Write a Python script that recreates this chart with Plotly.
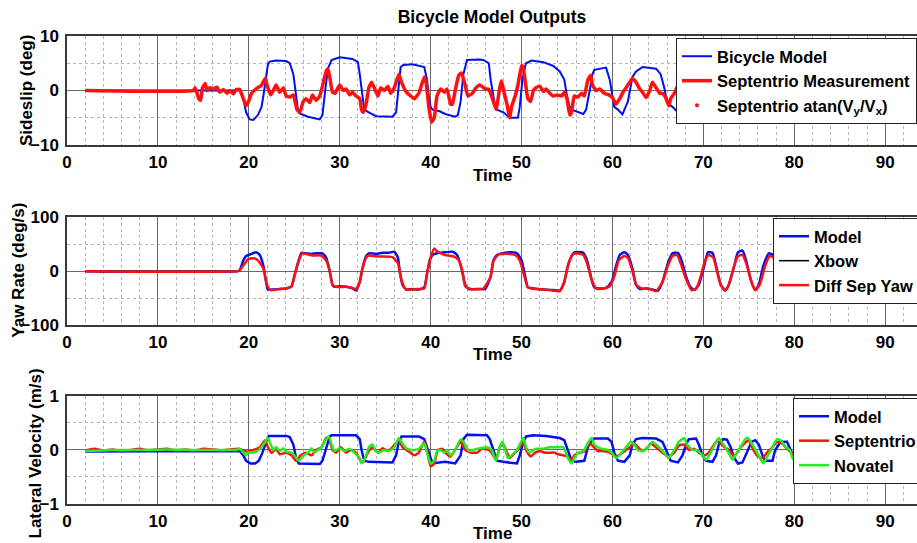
import plotly.graph_objects as go

# ---------------- data ----------------
# Panel 1: Sideslip (deg)
ss_model_t = [2, 14, 19.0, 19.4, 19.7, 20.1, 20.5, 21.0, 21.4, 21.6,
              21.9, 22.1, 22.3, 23.0, 24.1, 24.5, 24.9, 25.2, 25.4, 25.6,
              26.5, 27.8, 28.1, 28.4, 28.7, 29.1, 30.0, 31.4, 32.0, 32.2,
              32.5, 32.7, 33.2, 34.0, 35.8, 36.2, 36.5, 36.7, 37.0, 38.0,
              39.3, 39.6, 39.8, 40.0, 40.2, 41.0, 41.6, 42.7, 43.0, 43.3,
              43.6, 44.0, 45.3, 45.8, 46.4, 46.6, 46.9, 47.1, 47.3, 48.0,
              48.7, 49.6, 49.8, 50.1, 50.4, 50.5, 51.1, 52.4, 53.5, 54.2,
              54.7, 55.0, 55.3, 55.5, 56.8, 57.1, 57.5, 57.8, 58.0, 59.3,
              59.7, 60.0, 60.2, 60.6, 61.1, 61.7, 62.0, 62.2, 62.6, 63.3,
              64.8, 65.3, 65.7, 66.0, 66.2, 66.6, 67.2]
ss_model = [0, 0, 0, -1.5, -4, -5.3, -5.4, -4.5, -3, -1,
            3, 4.8, 5.3, 5.5, 5.4, 5.0, 3, -1, -3.5, -4.2,
            -4.8, -5.3, -4.5, 0, 4, 5.6, 6.1, 5.8, 5.2, 3,
            -1, -3.5, -4, -4.7, -4.8, -4, 1, 4.3, 4.7, 4.8,
            4.3, 2, -1, -3, -3.5, -3.8, -4.3, -4.8, -4.5, -2,
            3, 5.6, 5.7, 5.6, 5.0, 2, -1, -3, -3.5, -4,
            -5, -5, -3, 2, 4.5, 5.0, 5.5, 5.2, 4.5, 3.5,
            2, -1, -3, -3.5, -4.3, -3.5, 0, 3, 3.8, 4.2,
            2, -1, -3, -3.5, -4.4, -2, 1, 2.5, 3.5, 4.3,
            4.0, 3, 0.5, -2, -2.5, -3, -4]

ss_sep_t = [2, 13.9, 14.1, 14.5, 14.7, 14.9, 15.2, 15.4, 15.7, 16.1,
            16.5, 16.8, 17.2, 17.6, 17.9, 18.3, 18.6, 19.0, 19.4, 19.7,
            19.9, 20.3, 20.8, 21.4, 21.8, 22.0, 22.4, 22.7, 23.0, 23.4,
            23.8, 24.1, 24.5, 24.9, 25.3, 25.6, 26.0, 26.3, 26.7, 27.0,
            27.4, 27.8, 28.2, 28.5, 28.7, 28.9, 29.2, 29.5, 29.8, 30.0,
            30.4, 30.7, 31.1, 31.4, 31.8, 32.2, 32.4, 32.6, 32.9, 33.2,
            33.5, 33.8, 34.2, 34.5, 34.9, 35.3, 35.6, 36.0, 36.5, 36.8,
            37.3, 37.8, 38.2, 38.7, 39.3, 39.5, 39.8, 40.1, 40.4, 40.7,
            41.1, 41.5, 41.8, 42.2, 42.4, 42.7, 43.1, 43.4, 43.8, 44.1,
            44.6, 44.9, 45.4, 46.0, 46.4, 46.6, 46.9, 47.2, 47.6, 47.8,
            48.1, 48.4, 48.7, 48.9, 49.3, 49.6, 50.0, 50.2, 50.5, 50.7,
            51.0, 51.3, 51.6, 52.0, 52.4, 52.7, 53.1, 53.5, 53.9, 54.4,
            54.7, 55.0, 55.3, 55.5, 55.8, 56.2, 56.6, 56.9, 57.3, 57.6,
            57.8, 58.2, 58.6, 59.1, 59.6, 60.0, 60.4, 60.8, 61.1, 61.7,
            62.2, 62.6, 63.0, 63.3, 63.7, 64.1, 64.4, 64.8, 65.2, 65.5,
            65.9, 66.2, 66.4, 66.8, 67.2]
ss_sep = [0, 0, 0.5, -1.5, -1.8, 0.5, 1.3, 0, 0.5, 0.3,
          0.6, -0.3, 0.2, -0.5, 0, -0.6, 0.2, 0.2, -1.5, -2.8,
          -2.3, -0.5, 0.3, 1.0, 2.2, 1.0, -0.8, 0, 1.0, -0.3,
          0.5, -1.0, -1.2, -0.8, -3.5, -4.0, -2.0, -1.5, -2.2, -0.8,
          -1.8, -1.0, 1.5, 3.5, 4.0, 2.5, -0.3, -0.5, 0.5, 1.0,
          0, 0.3, -0.8, -0.3, -1.0, -1.5, -3.5, -4.0, -2.5, 0.5,
          1.5, 0.5, -1.0, 0.5, 0, 0.8, -0.5, 0.5, 3.0, 1.5,
          -0.2, -1.0, -1.5, -0.5, 2.5, 1.5, -3.0, -5.8, -5.0, -1.0,
          0.3, -0.3, 0.3, -2.5, -2.5, 0, 2.8, 3.2, 1.0, -1.0,
          -0.5, 0.3, 1.0, 0.3, 0.2, -0.5, -2.0, -3.5, 0.5, 1.8,
          -0.5, -2.5, -5.0, -3.0, -1.0, 1.0, 4.6, 4.0, 0.5, -1.5,
          -2.0, 0, 0.5, 0.8, -0.2, 0.3, -0.5, -1.0, -0.8, -1.0,
          -0.3, -1.5, -4.5, -4.0, -1.0, -1.2, -0.5, -1.0, 2.0, 2.8,
          1.0, 0, 0.3, -0.5, -0.8, -1.3, -2.5, -1.5, -0.5, 1.0,
          2.2, 1.5, 0.3, -0.3, -1.3, 0, 1.5, 0.5, -0.5, -0.5,
          -1.5, -2.8, -1.5, -0.5, 1.0]

# Panel 2: Yaw Rate (deg/s)
yaw_model_t = [2, 18.8, 19.0, 19.4, 19.7, 20.3, 20.8, 21.2, 21.6, 21.9,
               22.1, 22.7, 23.4, 24.1, 24.7, 25.0, 25.4, 25.8, 26.3, 26.9,
               27.4, 28.1, 28.5, 28.9, 29.2, 29.4, 30.0, 30.7, 31.4, 31.8,
               32.2, 32.5, 32.9, 33.2, 34.0, 34.7, 35.4, 36.0, 36.4, 36.6,
               36.9, 37.3, 38.0, 38.7, 39.3, 39.6, 39.9, 40.2, 40.7, 41.6,
               42.4, 42.9, 43.4, 43.8, 44.2, 45.3, 46.0, 46.6, 46.9, 47.3,
               47.6, 48.7, 49.5, 50.0, 50.4, 50.7, 51.3, 52.4, 53.5, 54.2,
               54.7, 55.1, 55.5, 55.8, 56.8, 57.2, 57.7, 58.0, 58.6, 59.3,
               59.9, 60.4, 60.8, 61.3, 61.7, 62.2, 62.6, 63.0, 63.7, 64.4,
               65.0, 65.5, 66.1, 66.6, 67.2, 67.6, 68.1, 68.6, 69.0, 69.5,
               70.1, 70.5, 71.0, 71.4, 71.9, 72.4, 72.8, 73.4, 73.8, 74.3,
               74.7, 75.2, 75.7, 76.1, 76.6, 77.2, 77.7, 78.3, 78.8, 79.3,
               79.8, 80.4, 81.0, 81.5, 82.0, 82.6, 83.0]
yaw_model = [0, 0, 2, 20, 28, 32, 35, 30, 10, -20,
             -34, -34, -33, -32, -28, -10, 15, 34, 33, 32,
             33, 33, 25, 0, -25, -29, -28, -29, -32, -36,
             -20, 5, 28, 33, 32, 34, 34, 36, 25, 0,
             -25, -34, -33, -34, -30, -5, 20, 30, 33, 35,
             36, 30, 5, -25, -33, -33, -33, -10, 20, 30,
             32, 35, 33, 20, -10, -30, -32, -34, -35, -36,
             -20, 10, 28, 35, 34, 20, -15, -30, -32, -31,
             -20, 10, 30, 35, 30, 5, -25, -33, -32, -34,
             -36, -20, 15, 33, 34, 20, -10, -30, -35, -25,
             10, 35, 34, 10, -25, -36, -25, 10, 35, 38,
             20, -15, -35, -25, 10, 33, 30, 10, -20, -34,
             -20, 15, 30, 15, -20, -34, -25]

yaw_xbow_t = [2, 3.5, 4.0, 4.5, 6, 7, 7.5, 8, 12, 18.8]
yaw_xbow = [0, 0, -2, 0, 0, 0.5, -0.5, 0, 0, 0]

yaw_sep_t = [2, 18.8, 19.0, 19.6, 19.9, 20.5, 21.0, 21.6, 22.0, 22.4,
             23.4, 24.1, 24.7, 25.0, 25.4, 25.9, 26.5, 27.0, 27.9, 28.5,
             28.9, 29.2, 29.6, 30.7, 31.4, 31.8, 32.2, 32.5, 32.9, 33.2,
             34.3, 35.8, 36.4, 36.7, 37.1, 37.4, 38.7, 39.3, 39.6, 40.0,
             40.4, 40.7, 41.6, 42.6, 43.1, 43.5, 43.8, 44.4, 45.8, 46.6,
             46.9, 47.4, 48.5, 49.3, 49.8, 50.4, 50.7, 51.6, 53.1, 54.2,
             54.7, 55.1, 55.6, 56.0, 56.8, 57.2, 57.7, 58.2, 59.0, 59.7,
             60.2, 60.7, 61.3, 61.7, 62.2, 62.6, 63.2, 64.1, 64.8, 65.5,
             66.1, 66.6, 67.1, 67.5, 68.1, 68.7, 69.2, 69.7, 70.2, 70.6,
             71.1, 71.5, 71.9, 72.4, 72.8, 73.4, 73.8, 74.3, 74.8, 75.3,
             75.7, 76.2, 76.8, 77.3, 77.7, 78.3, 78.8, 79.3, 79.8, 80.4,
             81.0, 81.5, 82.0, 82.6, 83.0]
yaw_sep = [0, 0, 2, 15, 22, 24, 20, 5, -25, -35,
           -33, -32, -28, -10, 15, 33, 31, 29, 29, 20,
           0, -25, -29, -29, -31, -33, -20, 5, 25, 29,
           27, 26, 15, -10, -30, -34, -33, -32, -5, 25,
           42, 37, 30, 27, 20, 0, -28, -33, -32, -10,
           18, 30, 32, 30, 20, -15, -30, -33, -35, -37,
           -20, 10, 30, 33, 30, 15, -15, -32, -32, -28,
           -10, 20, 28, 25, 0, -25, -32, -33, -37, -20,
           10, 28, 30, 15, -15, -35, -33, -10, 20, 30,
           25, 0, -25, -35, -25, 10, 28, 30, 10, -20,
           -35, -25, 10, 28, 25, 10, -20, -36, -20, 15,
           28, 15, -20, -36, -25]

# Panel 3: Lateral Velocity (m/s)
vy_model_t = [2, 10, 18.8, 19.0, 19.4, 19.7, 20.2, 20.7, 21.1, 21.5,
              21.9, 22.2, 24.1, 24.5, 24.9, 25.2, 25.5, 27.8, 28.1, 28.5,
              28.9, 29.1, 31.8, 32.2, 32.4, 32.7, 33.2, 35.8, 36.2, 36.5,
              36.8, 38.7, 39.3, 39.7, 40.1, 40.5, 41.6, 42.7, 43.3, 43.6,
              44.0, 46.2, 46.5, 46.9, 47.3, 48.0, 49.5, 49.8, 50.2, 50.5,
              51.3, 52.7, 54.2, 54.7, 55.1, 55.5, 56.0, 56.9, 57.3, 57.7,
              58.0, 59.5, 59.9, 60.2, 60.6, 61.3, 61.9, 62.2, 62.6, 63.3,
              64.8, 65.5, 65.9, 66.4, 67.2, 67.7, 68.1, 68.4, 69.2, 69.5,
              69.9, 70.3, 71.0, 71.4, 71.7, 72.2, 72.6, 73.0, 73.4, 73.8,
              74.3, 74.8, 75.3, 75.7, 76.1, 76.5, 76.8, 77.6, 77.9, 78.5,
              79.2, 79.6, 80.0]
vy_model = [-0.03, -0.02, -0.01, -0.02, -0.1, -0.2, -0.25, -0.25, -0.2, -0.05,
            0.15, 0.26, 0.26, 0.24, 0.1, -0.15, -0.25, -0.26, -0.2, 0.05,
            0.25, 0.27, 0.27, 0.2, 0, -0.2, -0.22, -0.23, -0.1, 0.15,
            0.25, 0.25, 0.2, 0, -0.2, -0.24, -0.22, -0.25, -0.1, 0.2,
            0.28, 0.27, 0.2, 0, -0.2, -0.22, -0.25, -0.1, 0.15, 0.25,
            0.27, 0.26, 0.22, 0.18, 0, -0.2, -0.22, -0.2, 0.05, 0.17,
            0.21, 0.21, 0.15, -0.05, -0.2, -0.22, -0.1, 0.1, 0.2, 0.22,
            0.21, 0.15, 0, -0.2, -0.23, -0.1, 0.1, 0.2, 0.21, 0.1,
            -0.1, -0.2, -0.22, -0.1, 0.1, 0.2, 0.19, 0.05, -0.15, -0.25,
            -0.23, -0.05, 0.15, 0.18, 0.1, -0.1, -0.2, -0.2, 0, 0.15,
            0.15, 0, -0.15]

vy_sep_t = [2, 3, 4, 5, 6, 7, 8, 9, 10, 11,
            12, 13, 14, 15, 16, 17, 18, 19.0, 19.7, 20.5,
            21.2, 21.8, 22.1, 22.5, 23.0, 23.4, 24.1, 24.7, 25.2, 25.7,
            26.3, 26.9, 27.4, 28.0, 28.5, 28.8, 29.2, 29.6, 30.1, 30.7,
            31.2, 31.8, 32.3, 32.6, 33.1, 33.6, 34.2, 34.7, 35.3, 35.8,
            36.5, 36.9, 37.6, 38.2, 38.7, 39.3, 39.6, 40.0, 40.4, 40.8,
            41.3, 41.6, 42.2, 42.7, 43.3, 43.8, 44.4, 45.1, 45.6, 46.4,
            46.7, 47.2, 47.6, 48.0, 48.4, 48.7, 49.3, 49.8, 50.2, 50.5,
            51.0, 51.5, 52.0, 52.6, 53.1, 53.6, 54.0, 54.6, 55.1, 55.5,
            55.8, 56.4, 56.9, 57.5, 57.8, 58.4, 58.9, 59.7, 60.4, 61.1,
            61.9, 62.4, 62.8, 63.3, 63.9, 64.2, 64.8, 65.5, 66.2, 66.8,
            67.3, 67.9, 68.4, 69.0, 69.5, 70.1, 70.6, 71.4, 71.7, 72.3,
            72.8, 73.4, 73.9, 74.5, 75.0, 75.5, 76.0, 76.5, 77.0, 77.6,
            78.1, 78.7, 79.2, 79.7, 80.0]
vy_sep = [-0.01, 0.02, -0.01, 0.01, -0.02, 0.0, 0.02, -0.01, 0.01, 0.02,
          -0.01, 0.01, -0.01, 0.02, 0.01, -0.01, 0.01, 0.02, -0.03, 0.0,
          0.05, 0.18, 0.05, -0.05, 0.02, -0.08, -0.05, -0.1, -0.2, -0.1,
          -0.05, -0.1, 0.0, 0.05, 0.22, 0.23, 0.0, -0.05, 0.05, -0.05,
          0.0, -0.05, -0.2, -0.22, -0.05, 0.05, -0.05, 0.03, -0.02, 0.05,
          0.18, 0.05, -0.03, -0.1, -0.05, 0.15, 0.0, -0.3, -0.25, 0.0,
          0.02, -0.05, -0.12, 0.0, 0.15, 0.0, -0.05, -0.05, 0.02, 0.0,
          -0.05, -0.18, 0.05, 0.1, -0.05, -0.15, -0.05, 0.05, 0.15, 0.0,
          -0.12, -0.05, -0.02, -0.05, -0.05, -0.05, -0.08, -0.1, -0.12, -0.2,
          -0.1, -0.05, -0.03, 0.12, 0.08, -0.02, -0.02, -0.05, -0.12, -0.05,
          0.05, 0.12, 0.05, -0.02, 0.05, 0.12, 0.05, -0.05, -0.12, -0.05,
          0.08, 0.1, 0.0, 0.02, -0.05, -0.1, -0.05, 0.15, 0.15, 0.05,
          0.0, -0.12, 0.0, 0.12, 0.18, 0.0, -0.12, -0.15, -0.05, 0.05,
          0.15, 0.12, 0.02, -0.05, -0.1]

vy_nov_t = [2, 5, 8, 11, 14, 17, 18.6, 19.0, 19.4, 19.7,
            19.9, 20.3, 20.8, 21.4, 21.8, 22.1, 22.4, 22.7, 23.0, 23.4,
            23.8, 24.1, 24.7, 25.1, 25.5, 25.9, 26.5, 26.9, 27.2, 27.6,
            28.0, 28.5, 28.8, 29.2, 29.4, 30.0, 30.5, 31.1, 31.6, 32.2,
            32.4, 32.8, 33.2, 33.6, 34.0, 34.3, 34.9, 35.4, 36.0, 36.5,
            36.9, 37.4, 38.2, 38.7, 39.3, 39.6, 40.0, 40.4, 40.7, 41.1,
            41.5, 41.8, 42.2, 42.7, 43.3, 43.6, 44.2, 44.7, 45.4, 46.2,
            46.7, 47.2, 47.6, 47.9, 48.2, 48.5, 48.9, 49.5, 49.8, 50.2,
            50.5, 50.9, 51.5, 52.2, 53.1, 54.2, 54.6, 55.1, 55.5, 55.8,
            56.2, 56.8, 57.2, 57.7, 58.0, 58.4, 58.9, 59.5, 59.9, 60.4,
            61.0, 61.5, 62.0, 62.4, 62.8, 63.3, 63.9, 64.4, 64.8, 65.3,
            65.9, 66.2, 66.8, 67.3, 67.9, 68.2, 68.8, 69.3, 69.9, 70.3,
            70.8, 71.4, 71.7, 72.2, 72.6, 73.2, 73.5, 74.1, 74.6, 74.9,
            75.4, 75.9, 76.4, 76.6, 77.1, 77.6, 78.1, 78.5, 79.1, 79.5,
            79.8, 80.0]
vy_nov = [-0.02, 0.0, 0.0, 0.01, 0.0, 0.0, 0.0, 0.02, -0.05, -0.1,
          -0.05, -0.05, -0.03, 0.05, 0.15, 0.22, 0.1, 0.0, 0.05, -0.02,
          0.03, -0.03, -0.05, -0.12, -0.2, -0.12, -0.05, 0.03, -0.05, 0.0,
          0.05, 0.2, 0.25, 0.05, -0.02, 0.03, -0.02, 0.02, -0.05, -0.15,
          -0.25, -0.15, 0.05, 0.1, -0.03, -0.05, 0.0, -0.02, 0.05, 0.22,
          0.12, 0.02, 0.0, 0.02, 0.12, -0.05, -0.25, -0.2, -0.02, 0.0,
          -0.05, 0.0, -0.1, 0.0, 0.2, 0.15, -0.02, 0.0, 0.03, 0.05,
          0.0, -0.2, 0.05, 0.15, 0.0, -0.15, -0.1, 0.0, 0.1, 0.22,
          0.05, -0.05, 0.02, 0.02, 0.05, 0.05, 0.05, -0.15, -0.25, -0.15,
          -0.05, -0.02, 0.1, 0.22, 0.1, 0.05, 0.02, 0.0, -0.05, -0.15,
          -0.05, 0.05, 0.15, 0.1, 0.0, -0.02, 0.05, 0.15, 0.1, 0.02,
          -0.1, -0.15, 0.0, 0.15, 0.22, 0.1, 0.0, 0.0, -0.1, -0.18,
          -0.05, 0.15, 0.22, 0.1, 0.0, -0.18, -0.1, 0.05, 0.2, 0.22,
          0.1, -0.05, -0.2, -0.25, -0.1, 0.05, 0.2, 0.18, 0.05, 0.0,
          -0.15, -0.2]

x_tickvals = [0, 10, 20, 30, 40, 50, 60, 70, 80, 90]
y1_ticks = [-10, 0, 10]
y2_ticks = [-100, 0, 100]
y3_ticks = [-1, 0, 1]

# ---------------- figure ----------------
BLUE = "#0010f0"
RED = "#ff1010"
GREEN = "#22ee22"
FONT = "Liberation Sans, Arial, sans-serif"
W, H = 917, 543

fig = go.Figure()

# panel 1
fig.add_trace(go.Scatter(x=ss_model_t, y=ss_model, mode="lines", name="Bicycle Model",
                         line=dict(color=BLUE, width=2), xaxis="x", yaxis="y", legend="legend"))
fig.add_trace(go.Scatter(x=ss_sep_t, y=ss_sep, mode="lines", name="Septentrio Measurement",
                         line=dict(color=RED, width=3.5, shape="spline", smoothing=0.4),
                         xaxis="x", yaxis="y", legend="legend"))
fig.add_trace(go.Scatter(x=[None], y=[None], mode="markers",
                         name="Septentrio atan(V<sub>y</sub>/V<sub>x</sub>)",
                         marker=dict(color=RED, size=4), xaxis="x", yaxis="y", legend="legend"))
# panel 2
fig.add_trace(go.Scatter(x=yaw_model_t, y=yaw_model, mode="lines", name="Model",
                         line=dict(color=BLUE, width=2.5, shape="spline", smoothing=0.5),
                         xaxis="x2", yaxis="y2", legend="legend2"))
fig.add_trace(go.Scatter(x=yaw_xbow_t, y=yaw_xbow, mode="lines", name="Xbow",
                         line=dict(color="black", width=1.5), xaxis="x2", yaxis="y2", legend="legend2"))
fig.add_trace(go.Scatter(x=yaw_sep_t, y=yaw_sep, mode="lines", name="Diff Sep Yaw",
                         line=dict(color=RED, width=2.5, shape="spline", smoothing=0.5),
                         xaxis="x2", yaxis="y2", legend="legend2"))
# panel 3
fig.add_trace(go.Scatter(x=vy_model_t, y=vy_model, mode="lines", name="Model",
                         line=dict(color=BLUE, width=2.5), xaxis="x3", yaxis="y3", legend="legend3"))
fig.add_trace(go.Scatter(x=vy_sep_t, y=vy_sep, mode="lines", name="Septentrio",
                         line=dict(color=RED, width=2.5, shape="spline", smoothing=0.5),
                         xaxis="x3", yaxis="y3", legend="legend3"))
fig.add_trace(go.Scatter(x=vy_nov_t, y=vy_nov, mode="lines", name="Novatel",
                         line=dict(color=GREEN, width=2.5, shape="spline", smoothing=0.5),
                         xaxis="x3", yaxis="y3", legend="legend3"))

tickfont = dict(family=FONT, size=17, color="black", weight="bold")


def xax(anchor):
    return dict(anchor=anchor, domain=[0, 1], range=[0, 93.5], tickvals=x_tickvals,
                showgrid=True, gridcolor="#6a6a6a", gridwidth=1,
                minor=dict(dtick=2, tick0=0, showgrid=True, gridcolor="#b4b4b4",
                           griddash="dot", gridwidth=1),
                showline=True, linecolor="#3a3a3a", linewidth=1.5, mirror=True,
                ticks="", zeroline=False, tickfont=tickfont, ticklabelstandoff=1,
                automargin=False)


def yax(anchor, dom, rng, tv, minor):
    return dict(anchor=anchor, domain=dom, range=rng, tickvals=tv,
                showgrid=True, gridcolor="#6a6a6a", gridwidth=1,
                minor=dict(dtick=minor, tick0=0, showgrid=True, gridcolor="#b4b4b4",
                           griddash="dot", gridwidth=1),
                showline=True, linecolor="#3a3a3a", linewidth=1.5, mirror=False,
                ticks="", zeroline=False, tickfont=tickfont, ticklabelstandoff=3,
                automargin=False)


def leg(px, py):
    # position in pixels of the figure (container reference), so no margin push
    return dict(x=px / W, y=1 - py / H, xanchor="left", yanchor="top",
                xref="container", yref="container",
                bgcolor="white", bordercolor="#222222", borderwidth=1,
                font=dict(family=FONT, size=16.5, color="black", weight="bold"),
                tracegroupgap=0, itemwidth=30, traceorder="normal")


fig.update_layout(
    width=W, height=H,
    margin=dict(l=67, r=0, t=36, b=39, autoexpand=False),
    paper_bgcolor="white", plot_bgcolor="white",
    font=dict(family=FONT, color="black"),
    title=dict(text="Bicycle Model Outputs", x=0.5, xref="paper", xanchor="center",
               y=1 - 17 / H, yref="container", yanchor="middle",
               font=dict(family=FONT, size=17.5, color="black", weight="bold")),
    xaxis=xax("y"), xaxis2=xax("y2"), xaxis3=xax("y3"),
    yaxis=yax("x", [0.767, 1.0], [-10, 10], y1_ticks, 5),
    yaxis2=yax("x2", [0.382, 0.613], [-100, 100], y2_ticks, 50),
    yaxis3=yax("x3", [0.0, 0.231], [-1, 1], y3_ticks, 0.5),
    legend=leg(676, 38),
    legend2=leg(773, 218),
    legend3=leg(793, 398),
    showlegend=True,
)

lab = dict(family=FONT, size=17, color="black", weight="bold")
for ytxt in [0.701, 0.3205, -0.062]:
    fig.add_annotation(text="Time", x=0.5, y=ytxt, xref="paper", yref="paper",
                       showarrow=False, font=lab, xanchor="center", yanchor="middle")
for txt, xp, yp in [("Sideslip (deg)", -0.047, 0.8825),
                    ("Yaw Rate (deg/s)", -0.058, 0.5),
                    ("Lateral Velocity (m/s)", -0.037, 0.1070)]:
    fig.add_annotation(text=txt, x=xp, y=yp, xref="paper", yref="paper", textangle=-90,
                       showarrow=False, font=lab, xanchor="center", yanchor="middle")

fig.write_html("out.html")
